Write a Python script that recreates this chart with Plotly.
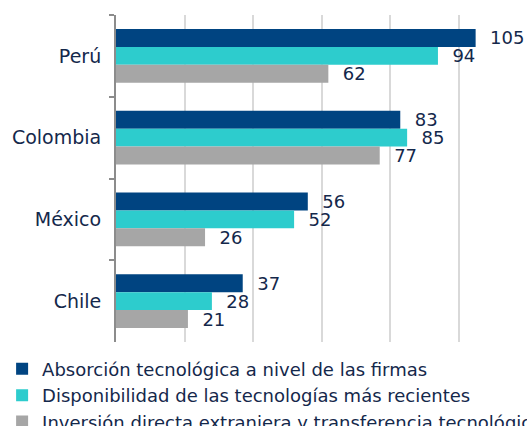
import plotly.graph_objects as go

# Countries (top to bottom) and indicator scores
countries = ["Perú", "Colombia", "México", "Chile"]
series_names = [
    "Absorción tecnológica a nivel de las firmas",
    "Disponibilidad de las tecnologías más recientes",
    "Inversión directa extranjera y transferencia tecnológica",
]
absorcion = [105, 83, 56, 37]
disponibilidad = [94, 85, 52, 28]
inversion = [62, 77, 26, 21]

colors = ["#004481", "#2DCCCD", "#A6A6A6"]
text_color = "#14284B"
font_family = "DejaVu Sans, Verdana, sans-serif"

fig = go.Figure()
for name, vals, col in zip(series_names, [absorcion, disponibilidad, inversion], colors):
    fig.add_trace(go.Bar(
        name=name,
        y=countries,
        x=vals,
        orientation="h",
        marker=dict(color=col, line=dict(width=0)),
        text=vals,
        texttemplate="\u00a0\u00a0%{x}",
        textposition="outside",
        constraintext="none",
        cliponaxis=False,
        textfont=dict(size=18, color=text_color, family=font_family),
    ))

fig.update_layout(
    width=527,
    height=426,
    margin=dict(l=116, r=0, t=15, b=84, autoexpand=False),
    barmode="group",
    bargap=0.34,
    bargroupgap=0,
    plot_bgcolor="white",
    paper_bgcolor="white",
    font=dict(family=font_family, color=text_color, size=19),
    xaxis=dict(
        range=[0, 120],
        tickvals=[20, 40, 60, 80, 100],
        showticklabels=False,
        showgrid=True,
        gridcolor="#D9D9D9",
        gridwidth=1.5,
        zeroline=False,
        showline=False,
        ticks="",
    ),
    yaxis=dict(
        autorange="reversed",
        showline=True,
        linecolor="#8C8C8C",
        linewidth=2,
        ticks="outside",
        tickson="boundaries",
        ticklen=5,
        tickcolor="#8C8C8C",
        tickwidth=1.5,
        ticklabelstandoff=9,
        showgrid=False,
        tickfont=dict(size=19, color=text_color, family=font_family),
    ),
    legend=dict(
        orientation="v",
        xref="container",
        yref="container",
        x=0.004,
        y=0.177,
        xanchor="left",
        yanchor="top",
        font=dict(size=18, color=text_color, family=font_family),
        bgcolor="rgba(0,0,0,0)",
        itemwidth=30,
        tracegroupgap=0,
    ),
)

fig.write_html("out.html")
